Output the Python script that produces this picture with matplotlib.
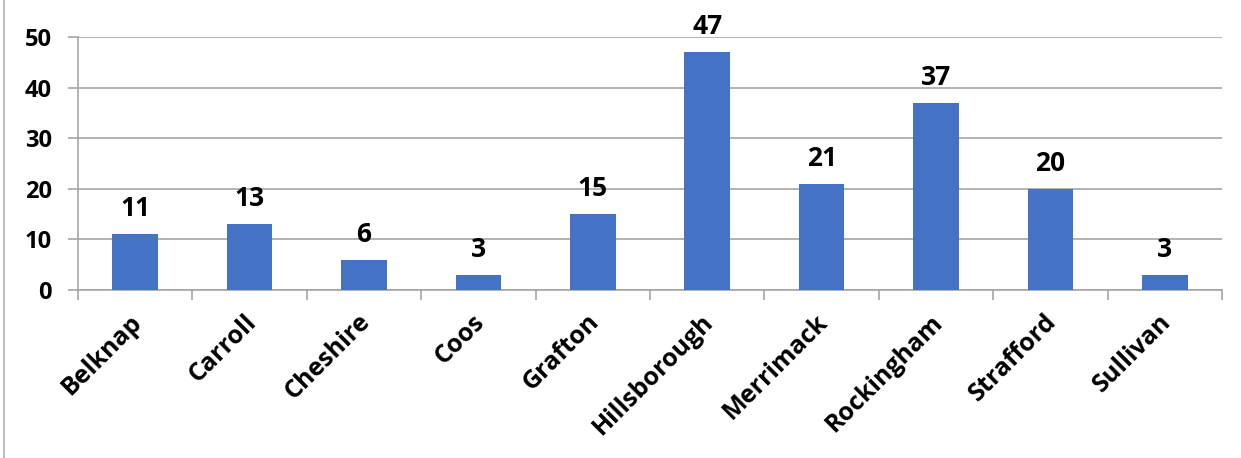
import matplotlib.pyplot as plt
import matplotlib.transforms as mtransforms
from matplotlib.lines import Line2D
import numpy as np

counties = ["Belknap", "Carroll", "Cheshire", "Coos", "Grafton",
            "Hillsborough", "Merrimack", "Rockingham", "Strafford", "Sullivan"]
counts = [11, 13, 6, 3, 15, 47, 21, 37, 20, 3]
y_ticks = [0, 10, 20, 30, 40, 50]

plt.rcParams['font.family'] = ['Open Sans', 'DejaVu Sans']
plt.rcParams['font.weight'] = 'bold'

fig = plt.figure(figsize=(12.41, 4.58), dpi=100)
ax = fig.add_axes([78 / 1241, 1 - 290 / 458, (1222 - 78) / 1241, (290 - 37) / 458])

x = np.arange(len(counties))
bars = ax.bar(x, counts, width=0.4, color="#4472C4", zorder=3)

for b, v in zip(bars, counts):
    ax.annotate(str(v), (b.get_x() + b.get_width() / 2, v), xytext=(0, 13),
                textcoords="offset points", ha="center", va="baseline",
                fontsize=19, fontweight="bold", color="black")

grid_color = "#A6A6A6"
ax.set_ylim(0, 50)
ax.set_xlim(-0.5, len(counties) - 0.5)
ax.set_yticks(y_ticks)
ax.set_yticklabels([str(t) for t in y_ticks], fontsize=17, fontweight="bold")
ax.yaxis.grid(True, color=grid_color, linewidth=1.2, zorder=0)
ax.tick_params(axis="y", length=7, color=grid_color, width=1.2, pad=12)

ax.set_xticks(x)
ax.set_xticklabels(counties, rotation=45, ha="right", va="top",
                   rotation_mode="anchor", fontsize=18, fontweight="bold")
ax.tick_params(axis="x", which="major", length=0, pad=14)
shift = mtransforms.ScaledTranslation(-6 / 100, 0, fig.dpi_scale_trans)
for lbl in ax.get_xticklabels():
    lbl.set_transform(lbl.get_transform() + shift)
ax.set_xticks(np.arange(len(counties) + 1) - 0.5, minor=True)
ax.tick_params(axis="x", which="minor", length=7, color=grid_color, width=1.2)

for s in ["top", "right"]:
    ax.spines[s].set_visible(False)
for s in ["left", "bottom"]:
    ax.spines[s].set_color(grid_color)
    ax.spines[s].set_linewidth(1.2)

fig.add_artist(Line2D([4 / 1241, 4 / 1241], [0, 1], color="#BFBFBF", linewidth=1.5))

fig.savefig("out.png", dpi=100)
